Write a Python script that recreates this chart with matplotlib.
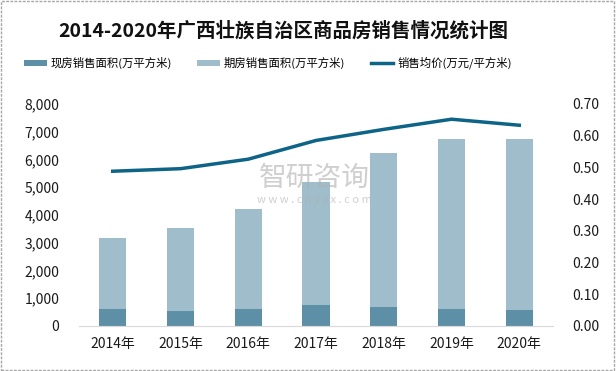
import numpy as np
import matplotlib
matplotlib.use("Agg")
import matplotlib.pyplot as plt
from matplotlib.patches import Rectangle

plt.rcParams['font.family'] = ['Noto Sans CJK SC', 'DejaVu Sans']

years = ['2014年', '2015年', '2016年', '2017年', '2018年', '2019年', '2020年']
xianfang = [613, 540, 613, 757, 685, 613, 577]        # 现房销售面积
qifang = [2560, 2990, 3600, 4420, 5550, 6125, 6160]   # 期房销售面积
price = [0.488, 0.496, 0.526, 0.585, 0.620, 0.652, 0.633]  # 销售均价

c_dark = '#5D90A7'
c_light = '#9FBDCA'
c_line = '#0E6487'

fig = plt.figure(figsize=(6.16, 3.71), dpi=100)
fig.patches.append(Rectangle((0.002, 0.003), 0.995, 0.993, transform=fig.transFigure,
                             fill=False, edgecolor='#A6A6A6', lw=1, ls=(0, (2, 1))))

ax = fig.add_axes([0.128, 0.1213, 0.77, 0.5984])
x = np.arange(len(years))
w = 0.4
ax.bar(x, xianfang, w, color=c_dark, label='现房销售面积(万平方米)')
ax.bar(x, qifang, w, bottom=xianfang, color=c_light, label='期房销售面积(万平方米)')
ax.set_xlim(-0.5, 6.5)
ax.set_ylim(0, 8000)
ax.set_yticks(range(0, 8001, 1000))
ax.set_yticklabels([f'{v:,}' for v in range(0, 8001, 1000)])
ax.set_xticks(x)
ax.set_xticklabels(years)
for s in ['top', 'right', 'left']:
    ax.spines[s].set_visible(False)
ax.spines['bottom'].set_color('#D9D9D9')
ax.tick_params(axis='both', length=0, labelsize=10, colors='#1a1a1a')
ax.tick_params(axis='y', pad=14)
ax.tick_params(axis='x', pad=8)

ax2 = ax.twinx()
ax2.plot(x, price, color=c_line, lw=2.5, label='销售均价(万元/平方米)')
ax2.set_ylim(0, 0.7)
ax2.set_yticks(np.arange(0, 0.71, 0.1))
ax2.set_yticklabels([f'{v:.2f}' for v in np.arange(0, 0.71, 0.1)])
for s in ['top', 'right', 'left', 'bottom']:
    ax2.spines[s].set_visible(False)
ax2.tick_params(axis='y', length=0, labelsize=10, colors='#1a1a1a', pad=14)

fig.text(0.46, 0.918, '2014-2020年广西壮族自治区商品房销售情况统计图',
         ha='center', va='center', fontsize=14, fontweight='bold', color='#111111')

h1, l1 = ax.get_legend_handles_labels()
h2, l2 = ax2.get_legend_handles_labels()
fig.legend(h1 + h2, l1 + l2, loc='center', bbox_to_anchor=(0.435, 0.83), ncol=3,
           frameon=False, fontsize=8.2, handlelength=2.0, handleheight=0.45,
           handletextpad=0.35, columnspacing=2.2)

# watermark
fig.text(0.51, 0.52, '智研咨询', ha='center', va='center', fontsize=20,
         color='#b0b0b0', alpha=0.6)
fig.text(0.51, 0.46, 'w w w . c h y x x . c o m', ha='center', va='center', fontsize=8,
         color='#b0b0b0', alpha=0.6)

fig.savefig('out.png', dpi=100)
